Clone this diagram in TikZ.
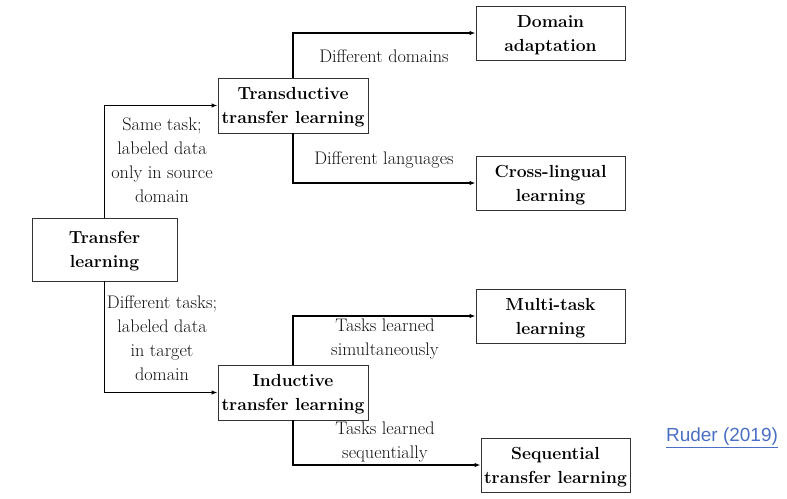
\documentclass[tikz,border=0pt]{standalone}
\usepackage{fontspec}
\newfontfamily\linkfont{Liberation Sans}
\usetikzlibrary{arrows.meta}
\definecolor{boxline}{HTML}{333333}
\definecolor{txt}{HTML}{111111}
\definecolor{linkblue}{HTML}{4A6FC4}
\newcommand{\toplift}{\rule{0pt}{16.5pt}}
\begin{document}
\begin{tikzpicture}[x=1pt,y=-1pt,
  box/.style={draw=boxline,line width=0.9pt,inner sep=0pt,align=center,font=\fontsize{17.5}{24}\selectfont\bfseries,text=black},
  lbl/.style={inner sep=0pt,align=center,font=\fontsize{18.2}{24}\selectfont,text=txt},
  conn/.style={line width=1.5pt,-{Latex[length=6pt,width=4.5pt]}}]
\useasboundingbox (0,0) rectangle (787,498);
\node[box,minimum width=145pt,minimum height=63pt] (tl) at (104.5,249.5) {\toplift Transfer\\learning};
\node[box,minimum width=150pt,minimum height=55pt] (td) at (293,105.5) {\toplift Transductive\\transfer learning};
\node[box,minimum width=150pt,minimum height=55pt] (in) at (293,392.5) {\toplift Inductive\\transfer learning};
\node[box,minimum width=149pt,minimum height=54pt] (da) at (550.5,33) {\toplift Domain\\adaptation};
\node[box,minimum width=149pt,minimum height=54pt] (cl) at (550.5,183) {\toplift Cross-lingual\\learning};
\node[box,minimum width=149pt,minimum height=54pt] (mt) at (550.5,316) {\toplift Multi-task\\learning};
\node[box,minimum width=149pt,minimum height=54pt] (sq) at (555.5,465) {\toplift Sequential\\transfer learning};
\draw[conn] (tl.north) |- (td.west);
\draw[conn] (tl.south) |- (in.west);
\draw[conn] (td.north) |- (da.west);
\draw[conn] (td.south) |- (cl.west);
\draw[conn] (in.north) |- (mt.west);
\draw[conn] (in.south) |- (sq.west);
\node[lbl] (l1) at (162,160) {Same task;\\labeled data\\only in source\\domain};
\node[lbl] (l2) at (162,338) {Different tasks;\\labeled data\\in target\\domain};
\node[lbl] (l3) at (384,56) {Different domains};
\node[lbl] (l4) at (384,160) {Different languages};
\node[lbl] (l5) at (385,339) {Tasks learned\\simultaneously};
\node[lbl] (l6) at (385,442) {Tasks learned\\sequentially};
\node[inner sep=0pt,text=linkblue,font=\linkfont\fontsize{19}{22}\selectfont] (ref) at (722,438) {\underline{Ruder (2019)}};
\end{tikzpicture}
\end{document}
